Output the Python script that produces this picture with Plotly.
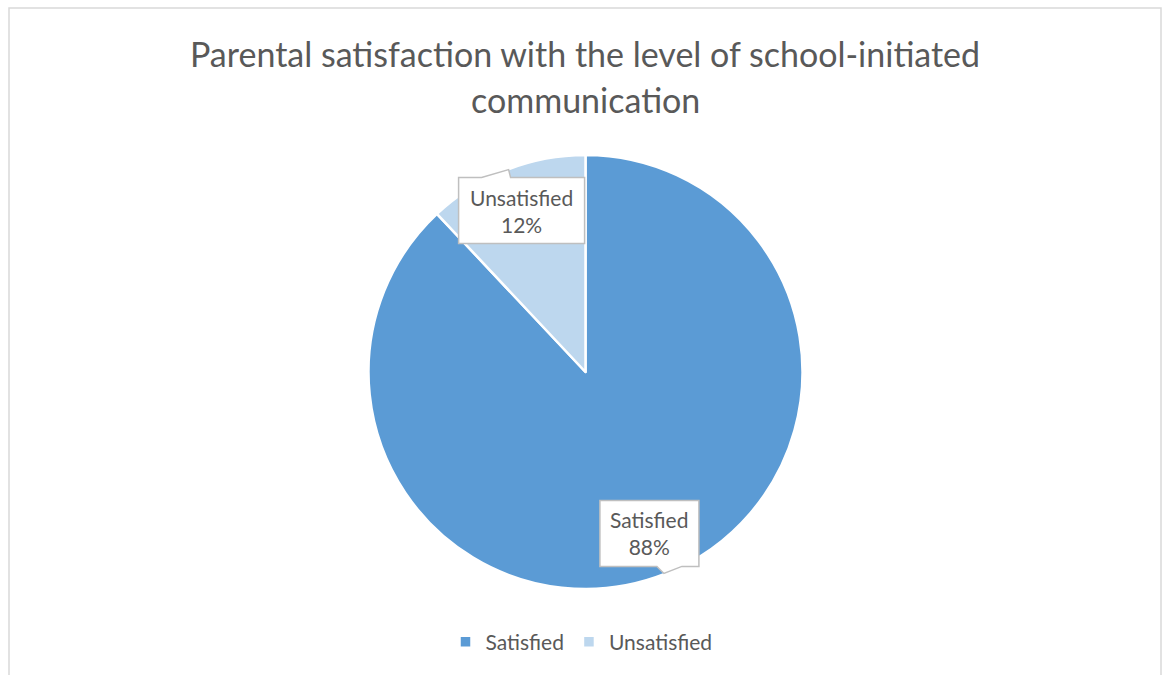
import math
import plotly.graph_objects as go

# Survey result
categories = ["Satisfied", "Unsatisfied"]
shares = [88, 12]
colors = ["#5B9BD5", "#BDD7EE"]
title_lines = ["Parental satisfaction with the level of school-initiated", "communication"]

W, H = 1163, 675
TEXT = "#595959"
FONT = "Lato"

# pie placement in pixels
cx, cy, R = 585.5, 372.0, 217.0


def px(x):
    return x / W


def py(y):
    return 1 - y / H


fig = go.Figure()
fig.add_trace(go.Pie(
    labels=categories,
    values=shares,
    sort=False,
    direction="clockwise",
    rotation=0,
    marker=dict(colors=colors, line=dict(color="white", width=2.5)),
    textinfo="none",
    hoverinfo="label+percent",
    domain=dict(x=[px(cx - R), px(cx + R)], y=[py(cy + R), py(cy - R)]),
))

# callout boxes placed along each slice's mid angle
box_w = {"Satisfied": 99, "Unsatisfied": 126}
box_h = 66
# tail: (edge, base start offset, base end offset, tip dx, tip dy) relative to box corner
tails = {
    "Satisfied": ("bottom", 57, 82, 64, 7),
    "Unsatisfied": ("top", 23, 52, 50, -8),
}

shapes = []
annotations = []
total = sum(shares)
cum = 0.0
for name, v in zip(categories, shares):
    mid = (cum + v / 2) / total * 2 * math.pi
    cum += v
    lx = cx + 0.8 * R * math.sin(mid)
    ly = cy - 0.8 * R * math.cos(mid)
    bw = box_w[name]
    x0, x1 = lx - bw / 2, lx + bw / 2
    y0, y1 = ly - box_h / 2, ly + box_h / 2
    side, a, b, tdx, tdy = tails[name]
    if side == "top":
        pts = [(x0, y0), (x0 + a, y0), (x0 + tdx, y0 + tdy), (x0 + b, y0),
               (x1, y0), (x1, y1), (x0, y1)]
    else:
        pts = [(x0, y0), (x1, y0), (x1, y1), (x0 + b, y1),
               (x0 + tdx, y1 + tdy), (x0 + a, y1), (x0, y1)]
    path = "M " + " L ".join(f"{px(x):.5f},{py(y):.5f}" for x, y in pts) + " Z"
    shapes.append(dict(type="path", xref="paper", yref="paper", path=path,
                       fillcolor="white", line=dict(color="#BFBFBF", width=1.5),
                       layer="above"))
    annotations.append(dict(
        x=px(lx), y=py(ly), xref="paper", yref="paper", showarrow=False,
        xanchor="center", yanchor="middle",
        text=f"{name}<br>{v}%", align="center",
        font=dict(family=FONT, size=21, color=TEXT),
    ))

# chart frame
shapes.append(dict(type="rect", xref="paper", yref="paper",
                   x0=px(9), x1=px(1161), y0=-0.05, y1=py(8),
                   line=dict(color="#D9D9D9", width=1.5), layer="below"))

# title, two centred lines
for i, line in enumerate(title_lines):
    annotations.append(dict(
        x=px(585), y=py(53 + 46 * i), xref="paper", yref="paper",
        showarrow=False, text=line, xanchor="center", yanchor="middle",
        font=dict(family=FONT, size=34, color=TEXT),
    ))

fig.update_layout(
    width=W, height=H,
    margin=dict(l=0, r=0, t=0, b=0),
    paper_bgcolor="white",
    plot_bgcolor="white",
    shapes=shapes,
    annotations=annotations,
    showlegend=True,
    legend=dict(orientation="h", x=0.5, xanchor="center", y=py(642),
                yanchor="middle", font=dict(family=FONT, size=21, color=TEXT),
                itemwidth=30),
)

fig.write_html("out.html")
